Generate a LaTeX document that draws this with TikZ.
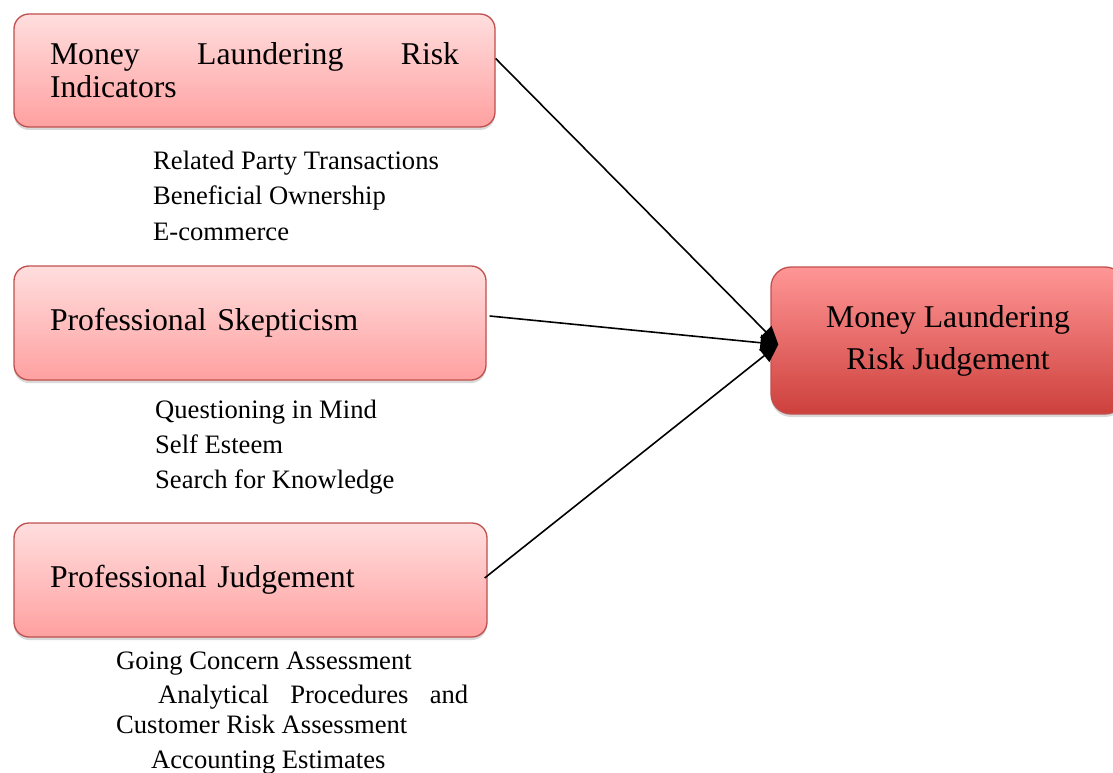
\documentclass[tikz,border=0pt]{standalone}
\usepackage{fontspec}
\setmainfont{Liberation Serif}
\usetikzlibrary{arrows.meta,shadows,calc}
\definecolor{bordercol}{RGB}{192,80,77}
\definecolor{lighttop}{RGB}{255,222,222}
\definecolor{lightbot}{RGB}{255,160,160}
\definecolor{darktop}{RGB}{255,150,150}
\definecolor{darkbot}{RGB}{205,64,60}
\tikzset{
  boxbase/.style={draw=bordercol, line width=1.3pt, rounded corners=15pt, inner sep=0pt,
    drop shadow={shadow xshift=0pt, shadow yshift=-3pt, opacity=0.25, fill=black!60}},
  lightbox/.style={boxbase, top color=lighttop, bottom color=lightbot,
    font=\fontsize{31.7}{33}\selectfont, align=left},
  darkbox/.style={boxbase, rounded corners=20pt, top color=darktop, bottom color=darkbot,
    font=\fontsize{31.7}{42}\selectfont, align=center},
  listtext/.style={anchor=base west, inner sep=0pt, font=\fontsize{26.6}{35}\selectfont},
  conn/.style={line width=1.6pt, -{Triangle[length=18pt,width=16pt]}}
}
\begin{document}
\begin{tikzpicture}[x=1pt,y=-1pt]
\useasboundingbox (0,0) rectangle (1113,773);
% boxes
\node[lightbox, minimum width=481pt, minimum height=113pt, text width=409pt] (b1) at (254.5,70.5)
  {\hbox to 409pt{Money\hfill Laundering\hfill Risk}\\Indicators};
\node[lightbox, minimum width=472pt, minimum height=114pt, text width=400pt] (b2) at (250,323)
  {Professional Skepticism};
\node[lightbox, minimum width=473pt, minimum height=114pt, text width=401pt] (b3) at (250.5,580)
  {Professional Judgement};
\node[darkbox, minimum width=354pt, minimum height=147pt] (b4) at (948,340.5)
  {Money Laundering\\Risk Judgement};
% lists
\node[listtext] (l11) at (153,169) {Related Party Transactions};
\node[listtext] (l12) at (153,204) {Beneficial Ownership};
\node[listtext] (l13) at (153,240) {E-commerce};
\node[listtext] (l21) at (155,418) {Questioning in Mind};
\node[listtext] (l22) at (155,453) {Self Esteem};
\node[listtext] (l23) at (155,488) {Search for Knowledge};
\node[listtext] (l31) at (116,669) {Going Concern Assessment};
\node[listtext] (l32) at (158,703) {\hbox to 310pt{Analytical\hfill Procedures\hfill and}};
\node[listtext] (l33) at (116,733) {Customer Risk Assessment};
\node[listtext] (l34) at (151,768) {Accounting Estimates};
% connectors
\coordinate (tip) at ($(b4.west)+(8pt,-4pt)$);
\coordinate (s1) at ([yshift=12pt]b1.east);
\coordinate (s2) at ([shift={(3pt,7pt)}]b2.east);
\coordinate (s3) at ([shift={(-3pt,2pt)}]b3.east);
\draw[conn] (s1) -- (tip);
\draw[conn] (s2) -- (tip);
\draw[conn] (s3) -- (tip);
\end{tikzpicture}
\end{document}
